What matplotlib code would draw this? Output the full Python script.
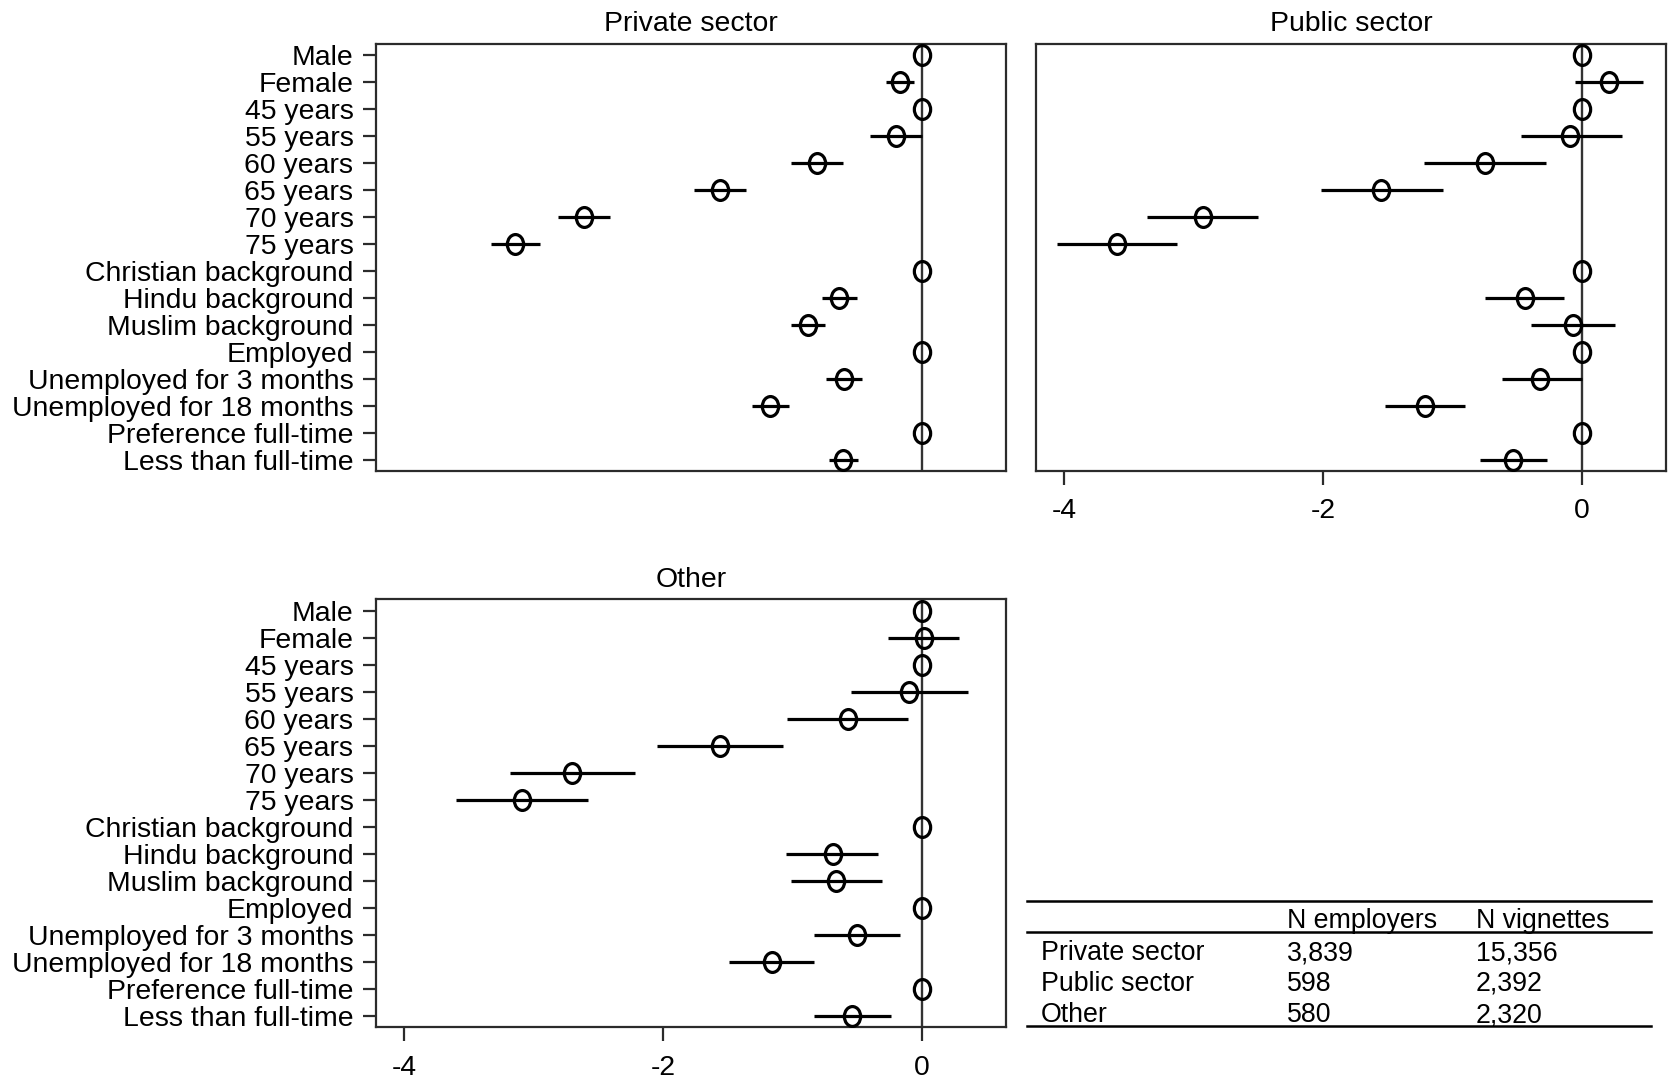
import numpy as np
import matplotlib
matplotlib.use("Agg")
import matplotlib.pyplot as plt
from matplotlib.path import Path
from matplotlib.lines import Line2D

plt.rcParams['font.family'] = ['Liberation Sans', 'DejaVu Sans']

# ---------------- data ----------------
categories = ["Male", "Female", "45 years", "55 years", "60 years", "65 years",
              "70 years", "75 years", "Christian background", "Hindu background",
              "Muslim background", "Employed", "Unemployed for 3 months",
              "Unemployed for 18 months", "Preference full-time", "Less than full-time"]

panel_titles = ["Private sector", "Public sector", "Other"]

private_est = [0, -0.17, 0, -0.20, -0.81, -1.56, -2.61, -3.14, 0, -0.64, -0.88, 0, -0.60, -1.17, 0, -0.61]
private_lo  = [0, -0.28, 0, -0.40, -1.01, -1.76, -2.81, -3.33, 0, -0.77, -1.01, 0, -0.74, -1.31, 0, -0.72]
private_hi  = [0, -0.06, 0,  0.00, -0.61, -1.36, -2.41, -2.95, 0, -0.50, -0.75, 0, -0.46, -1.03, 0, -0.49]

public_est = [0,  0.21, 0, -0.09, -0.75, -1.55, -2.93, -3.59, 0, -0.44, -0.07, 0, -0.32, -1.21, 0, -0.53]
public_lo  = [0, -0.05, 0, -0.47, -1.22, -2.02, -3.36, -4.06, 0, -0.75, -0.39, 0, -0.62, -1.52, 0, -0.79]
public_hi  = [0,  0.47, 0,  0.31, -0.28, -1.07, -2.50, -3.13, 0, -0.14,  0.26, 0,  0.00, -0.90, 0, -0.27]

other_est = [0,  0.02, 0, -0.10, -0.57, -1.56, -2.70, -3.09, 0, -0.69, -0.66, 0, -0.50, -1.16, 0, -0.54]
other_lo  = [0, -0.26, 0, -0.55, -1.04, -2.05, -3.18, -3.60, 0, -1.05, -1.01, 0, -0.83, -1.49, 0, -0.83]
other_hi  = [0,  0.29, 0,  0.36, -0.11, -1.07, -2.22, -2.58, 0, -0.34, -0.31, 0, -0.17, -0.83, 0, -0.24]

x_ticks = [-4, -2, 0]
x_ticklabels = ["-4", "-2", "0"]

table_header = ["N employers", "N vignettes"]
table_rows = ["Private sector", "Public sector", "Other"]
n_employers = ["3,839", "598", "580"]
n_vignettes = ["15,356", "2,392", "2,320"]

# ---------------- figure ----------------
W, H = 1669, 1080
fig = plt.figure(figsize=(W / 100, H / 100), dpi=100)

def ax_rect(x0, y0, x1, y1):
    return [x0 / W, 1 - y1 / H, (x1 - x0) / W, (y1 - y0) / H]

ax_priv = fig.add_axes(ax_rect(375.7, 43.6, 1006, 470.7))
ax_pub = fig.add_axes(ax_rect(1036, 43.6, 1665.8, 470.7))
ax_oth = fig.add_axes(ax_rect(375.7, 599.3, 1006, 1027))

# ellipse marker (slightly taller than wide, like the reference)
circ = Path.unit_circle()
ell = Path(circ.vertices * np.array([0.82, 1.0]), circ.codes)

spine_col = '#2b2b2b'
FS = 20.4

panels = [
    (ax_priv, private_est, private_lo, private_hi, True, False),
    (ax_pub, public_est, public_lo, public_hi, False, True),
    (ax_oth, other_est, other_lo, other_hi, True, True),
]

ypos = np.arange(len(categories))
for (ax, est, lo, hi, show_y, show_x), title in zip(panels, panel_titles):
    ax.axvline(0, color='#333333', lw=1.7, zorder=1)
    est = np.array(est); lo = np.array(lo); hi = np.array(hi)
    ax.hlines(ypos, lo, hi, color='black', lw=2.3, zorder=2)
    ax.plot(est, ypos, linestyle='none', marker=ell, markersize=14.3,
            markerfacecolor='none', markeredgecolor='black', markeredgewidth=2.3, zorder=3)
    ax.set_xlim(-4.22, 0.65)
    ax.set_ylim(15.4, -0.42)
    ax.set_title(title, fontsize=FS, pad=9)
    for s in ax.spines.values():
        s.set_color(spine_col)
        s.set_linewidth(1.6)
    if show_y:
        ax.set_yticks(ypos)
        ax.set_yticklabels(categories, fontsize=FS)
        ax.tick_params(axis='y', length=9.5, width=1.6, color=spine_col, pad=6.5)
    else:
        ax.set_yticks([])
    if show_x:
        ax.set_xticks(x_ticks)
        ax.set_xticklabels(x_ticklabels, fontsize=FS)
        ax.tick_params(axis='x', length=10, width=1.6, color=spine_col, pad=10)
    else:
        ax.set_xticks([])

# ---------------- table ----------------
def fx(x):
    return x / W

def fy(y):
    return 1 - y / H

for yl in [900.7, 931.5, 1025.5]:
    fig.add_artist(Line2D([fx(1027), fx(1651)], [fy(yl), fy(yl)], color='black', lw=1.8,
                          transform=fig.transFigure))

col_x = [1287, 1476]
TFS = 19.3
for cx, h in zip(col_x, table_header):
    fig.text(fx(cx), fy(920.5), h, fontsize=TFS, va='center', ha='left')

row_y = [953, 984, 1015]
for ry, name, ne, nv in zip(row_y, table_rows, n_employers, n_vignettes):
    fig.text(fx(1041), fy(ry), name, fontsize=TFS, va='center', ha='left')
    fig.text(fx(col_x[0]), fy(ry), ne, fontsize=TFS, va='center', ha='left')
    fig.text(fx(col_x[1]), fy(ry), nv, fontsize=TFS, va='center', ha='left')

fig.savefig("out.png", dpi=100, facecolor='white')
